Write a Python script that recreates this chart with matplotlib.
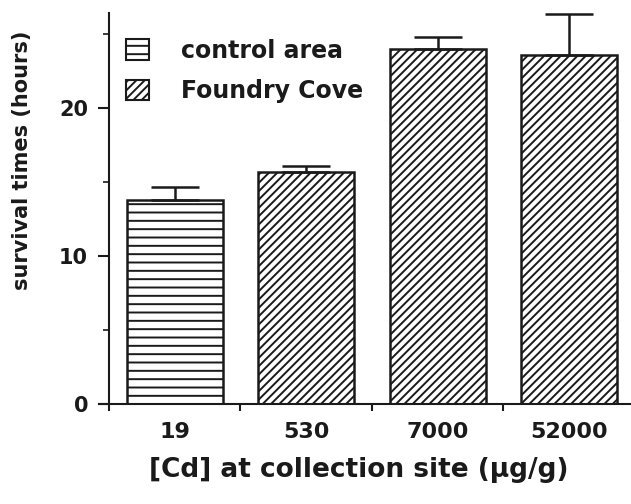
import matplotlib
matplotlib.use("Agg")
import matplotlib.pyplot as plt
from matplotlib.patches import Patch
from matplotlib.ticker import FixedLocator

categories = ["19", "530", "7000", "52000"]
survival = [13.8, 15.7, 24.0, 23.6]
err_upper = [0.85, 0.4, 0.8, 2.8]
groups = ["control area", "Foundry Cove", "Foundry Cove", "Foundry Cove"]
hatches = {"control area": "--", "Foundry Cove": "////"}

plt.rcParams['hatch.linewidth'] = 1.4
plt.rcParams['font.family'] = ['DejaVu Sans']
plt.rcParams['font.weight'] = 'bold'
plt.rcParams['axes.labelweight'] = 'bold'
ink = "#1a1a1a"

W, H = 631, 504
fig = plt.figure(figsize=(W / 100, H / 100), dpi=100)
ax = fig.add_axes([99.3 / W, 1 - 404 / H, 531.7 / W, (404 - 13) / H])

x = list(range(len(categories)))
for xi, h, e, g in zip(x, survival, err_upper, groups):
    ax.bar(xi, h, width=0.73, color="white", edgecolor=ink, linewidth=1.8,
           hatch=hatches[g], zorder=2)
    ax.errorbar(xi, h, yerr=[[0], [e]], fmt="none", ecolor=ink, elinewidth=1.8,
                capsize=17, capthick=1.8, zorder=3)

ax.set_xlim(-0.573, 3.47)
ax.set_ylim(0, 26.44)
ax.set_yticks([0, 10, 20])
ax.yaxis.set_minor_locator(FixedLocator([5, 15, 25]))
ax.xaxis.set_major_locator(FixedLocator([-0.5, 0.5, 1.5, 2.5]))
ax.xaxis.set_minor_locator(FixedLocator(x))
ax.set_xticklabels([])
ax.set_xticklabels(categories, minor=True)
ax.tick_params(axis="x", which="minor", length=0, pad=13, labelsize=16, labelcolor=ink)
ax.tick_params(axis="x", which="major", length=5, width=1.5, color=ink)
ax.tick_params(axis="y", which="major", length=8, width=1.5, color=ink, labelsize=15,
               labelcolor=ink, pad=7)
ax.tick_params(axis="y", which="minor", length=4, width=1.2, color=ink)

for s in ["top", "right"]:
    ax.spines[s].set_visible(False)
ax.spines["left"].set_position(("data", -0.5))
for s in ["left", "bottom"]:
    ax.spines[s].set_linewidth(1.5)
    ax.spines[s].set_color(ink)

ax.set_ylabel("survival times (hours)", fontsize=15, color=ink)
ax.yaxis.set_label_coords(22 / W, 1 - 160 / H, transform=fig.transFigure)
ax.yaxis.label.set_verticalalignment("center")
ax.set_xlabel("[Cd] at collection site (\u00b5g/g)", fontsize=19, color=ink)
ax.xaxis.set_label_coords(359 / W, 1 - 470 / H, transform=fig.transFigure)
ax.xaxis.label.set_verticalalignment("center")

handles = [Patch(facecolor="white", edgecolor=ink, hatch="--", linewidth=1.5),
           Patch(facecolor="white", edgecolor=ink, hatch="////", linewidth=1.5)]
leg = ax.legend(handles, ["control area", "Foundry Cove"], loc="upper left",
                bbox_to_anchor=(126 / W, 1 - 39 / H), bbox_transform=fig.transFigure,
                frameon=False, borderpad=0, borderaxespad=0,
                handlelength=0.98, handleheight=0.98, handletextpad=1.35, labelspacing=0.68,
                prop={"weight": "bold", "size": 17})
for t in leg.get_texts():
    t.set_color(ink)

fig.savefig("out.png", dpi=100)
